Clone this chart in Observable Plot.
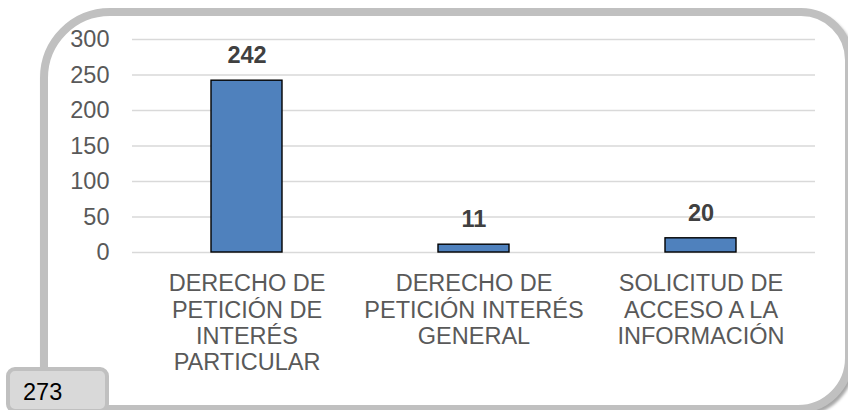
<!DOCTYPE html>
<html>
<head>
<meta charset="utf-8">
<script src="https://cdn.jsdelivr.net/npm/d3@7"></script>
<script src="https://cdn.jsdelivr.net/npm/@observablehq/plot@0.6"></script>
<style>
  html, body { margin: 0; padding: 0; background: #fff; }
  #wrap { position: relative; width: 848px; height: 410px; overflow: hidden; font-family: "Liberation Sans", Arial, sans-serif; }
  #frame { position: absolute; left: 40px; top: 8px; width: 797px; height: 389px;
    border: 8px solid #c0c0c0; border-radius: 70px 52px 55px 40px;
    box-shadow: 2px 3px 3px rgba(0,0,0,0.35); background: #fff; }
  #chart { position: absolute; left: 0; top: 0; }
  #total { position: absolute; left: 6px; top: 367px; width: 103px; height: 46px;
    background: #d9d9d9; border: 4px solid #c0c0c0; border-radius: 9px;
    font-size: 23.5px; color: #000; box-sizing: border-box; padding: 10px 0 0 13px; line-height: 23px; }
</style>
</head>
<body>
<div id="wrap">
  <div id="frame"></div>
  <div id="chart"></div>
  <div id="total"></div>
</div>
<script>
const categories = [
  "DERECHO DE PETICIÓN DE INTERÉS PARTICULAR",
  "DERECHO DE PETICIÓN INTERÉS GENERAL",
  "SOLICITUD DE ACCESO A LA INFORMACIÓN"
];
const categoryLabels = [
  "DERECHO DE\nPETICIÓN DE\nINTERÉS\nPARTICULAR",
  "DERECHO DE\nPETICIÓN INTERÉS\nGENERAL",
  "SOLICITUD DE\nACCESO A LA\nINFORMACIÓN"
];
const values = [242, 11, 20];
const yTicks = [0, 50, 100, 150, 200, 250, 300];
const totalLabel = "273";

const data = categories.map((c, i) => ({category: c, value: values[i]}));
const labelOf = new Map(categories.map((c, i) => [c, categoryLabels[i]]));

const chart = Plot.plot({
  width: 848,
  height: 410,
  marginLeft: 132,
  marginRight: 33,
  marginTop: 39,
  marginBottom: 158,
  style: {background: "transparent", fontFamily: "'Liberation Sans', Arial, sans-serif", overflow: "visible"},
  x: {domain: categories, paddingInner: 0.687, paddingOuter: 0.3435, label: null},
  y: {domain: [0, 300], label: null},
  marks: [
    Plot.gridY(yTicks, {stroke: "#d9d9d9", strokeOpacity: 1, strokeWidth: 1.5}),
    Plot.barY(data, {x: "category", y: "value", fill: "#4f81bd", stroke: "#000", strokeWidth: 1.4}),
    Plot.text(data, {x: "category", y: "value", text: d => String(d.value), dy: -25,
      fontSize: 23.5, fontWeight: "bold", fill: "#404040"}),
    Plot.axisY(yTicks, {tickSize: 0, tickPadding: 23, fontSize: 23.5, color: "#595959", label: null}),
    Plot.axisX({tickSize: 0, tickPadding: 20, fontSize: 23.5, lineHeight: 1.12, color: "#595959",
      tickFormat: c => labelOf.get(c), label: null})
  ]
});
document.getElementById("chart").appendChild(chart);
document.getElementById("total").textContent = totalLabel;
</script>
</body>
</html>
